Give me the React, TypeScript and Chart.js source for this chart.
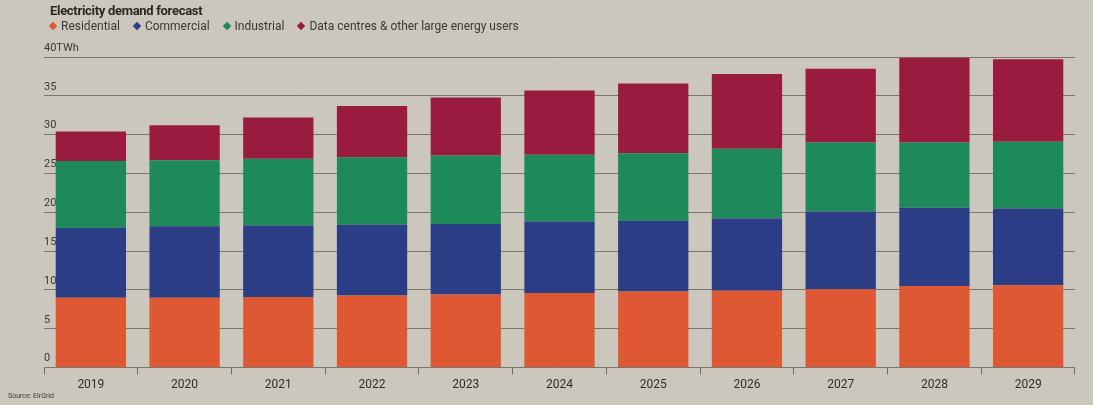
import React, { useEffect, useRef } from "react";
import { Chart, registerables } from "chart.js";

Chart.register(...registerables);

const years = ["2019", "2020", "2021", "2022", "2023", "2024", "2025", "2026", "2027", "2028", "2029"];
const residential = [9.0, 9.0, 9.1, 9.3, 9.4, 9.6, 9.8, 9.9, 10.1, 10.5, 10.6];
const commercial = [9.0, 9.2, 9.2, 9.1, 9.1, 9.2, 9.1, 9.3, 10.0, 10.1, 9.9];
const industrial = [8.6, 8.5, 8.6, 8.7, 8.8, 8.6, 8.7, 9.0, 8.9, 8.4, 8.6];
const dataCentres = [3.8, 4.5, 5.3, 6.6, 7.5, 8.3, 9.0, 9.6, 9.5, 10.9, 10.6];
const yTicks = [0, 5, 10, 15, 20, 25, 30, 35, 40];

const seriesNames = ["Residential", "Commercial", "Industrial", "Data centres & other large energy users"];
const seriesColors = ["#de5834", "#2b3d84", "#1e8a5a", "#9a1b40"];

const FONT = "Roboto, 'Liberation Sans', sans-serif";

export default function App() {
  const ref = useRef<HTMLCanvasElement>(null);

  useEffect(() => {
    if (!ref.current) return;
    const values = [residential, commercial, industrial, dataCentres];
    const chart = new Chart(ref.current, {
      type: "bar",
      data: {
        labels: years,
        datasets: values.map((v, i) => ({
          label: seriesNames[i],
          data: v,
          backgroundColor: seriesColors[i],
          borderWidth: 0,
          barPercentage: 0.75,
          categoryPercentage: 1,
        })),
      },
      options: {
        animation: false,
        responsive: false,
        maintainAspectRatio: false,
        layout: { padding: { top: 57, left: 44, right: 18, bottom: 10 } },
        plugins: {
          legend: { display: false },
          title: { display: false },
          tooltip: { enabled: false },
        },
        scales: {
          x: {
            stacked: true,
            offset: true,
            border: { display: false },
            grid: {
              offset: true,
              drawOnChartArea: false,
              drawTicks: true,
              tickLength: 7,
              color: "#6e6962",
            },
            ticks: {
              color: "#2f2d2a",
              padding: 3,
              font: { family: FONT, size: 12 },
            },
          },
          y: {
            stacked: true,
            min: 0,
            max: 40,
            afterBuildTicks: (axis: any) => {
              axis.ticks = yTicks.map((v) => ({ value: v }));
            },
            border: { display: false },
            grid: {
              drawTicks: false,
              color: "#7a756d",
              lineWidth: 1,
            },
            ticks: {
              mirror: true,
              padding: 0,
              labelOffset: -9,
              color: "#3a3835",
              font: { family: FONT, size: 11 },
              callback: (v: any) => (Number(v) === 40 ? "40TWh" : String(v)),
            },
          },
        },
      },
    });
    return () => chart.destroy();
  }, []);

  const diamond = (c: string) => (
    <span
      style={{
        display: "inline-block",
        width: 6,
        height: 6,
        background: c,
        transform: "rotate(45deg)",
        marginRight: 5,
        position: "relative",
        top: -1,
      }}
    />
  );

  return (
    <div
      style={{
        position: "fixed",
        left: 0,
        top: 0,
        width: 1093,
        height: 405,
        background: "#ccc7bd",
        overflow: "hidden",
        fontFamily: FONT,
      }}
    >
      <canvas ref={ref} width={1093} height={405} style={{ position: "absolute", left: 0, top: 0 }} />
      <div
        style={{
          position: "absolute",
          left: 50,
          top: 3,
          fontSize: 13,
          fontWeight: 700,
          color: "#2a2826",
          letterSpacing: -0.3,
        }}
      >
        Electricity demand forecast
      </div>
      <div
        style={{
          position: "absolute",
          left: 50,
          top: 19,
          fontSize: 12,
          color: "#3a3835",
          display: "flex",
          gap: 14,
          whiteSpace: "nowrap",
        }}
      >
        {seriesNames.map((n, i) => (
          <span key={n}>
            {diamond(seriesColors[i])}
            {n}
          </span>
        ))}
      </div>
      <div
        style={{
          position: "absolute",
          left: 8,
          top: 392,
          fontSize: 7,
          color: "#3a3835",
        }}
      >
        Source: EirGrid
      </div>
    </div>
  );
}
